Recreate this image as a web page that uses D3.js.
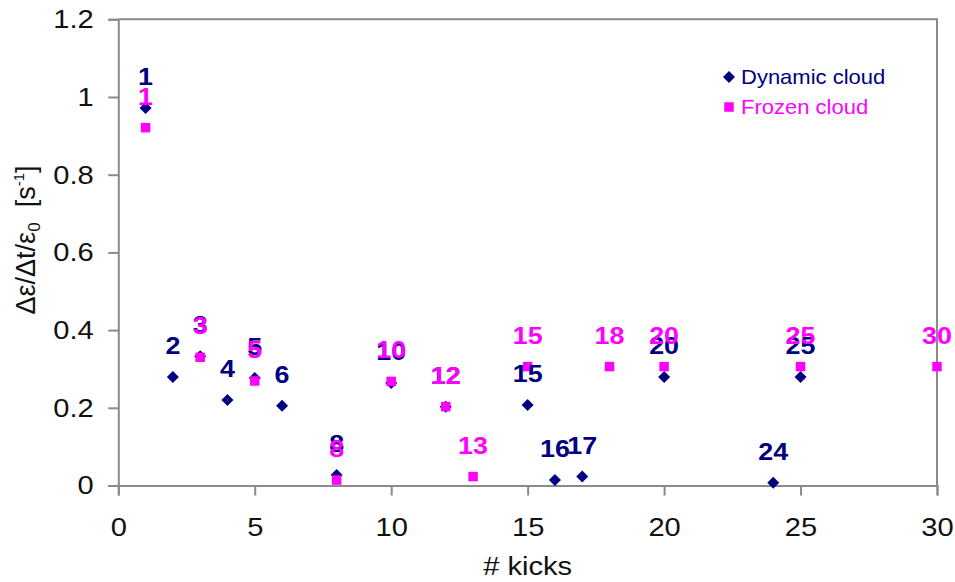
<!DOCTYPE html>
<html>
<head>
<meta charset="utf-8">
<script src="https://cdn.jsdelivr.net/npm/d3@7"></script>
<style>
  html, body { margin: 0; padding: 0; background: #ffffff; }
  svg { display: block; }
  text { font-family: "Liberation Sans", Arial, Helvetica, sans-serif; }
</style>
</head>
<body>
<svg id="chart" width="955" height="582"></svg>
<script>
// Emittance growth rate per kick, dynamic vs frozen electron cloud
const dynamicKicks  = [1, 2, 3, 4, 5, 6, 8, 10, 12, 15, 16, 17, 20, 24, 25];
const dynamicValues = [0.972, 0.279, 0.333, 0.22, 0.277, 0.205, 0.027, 0.264, 0.203, 0.207, 0.014, 0.023, 0.279, 0.007, 0.279];
const frozenKicks   = [1, 3, 5, 8, 10, 12, 13, 15, 18, 20, 25, 30];
const frozenValues  = [0.921, 0.33, 0.269, 0.014, 0.268, 0.203, 0.023, 0.306, 0.306, 0.306, 0.306, 0.306];
const xTickValues   = [0, 5, 10, 15, 20, 25, 30];
const yTickValues   = [0, 0.2, 0.4, 0.6, 0.8, 1, 1.2];
const seriesNames   = ["Dynamic cloud", "Frozen cloud"];

const NAVY = "#000080", MAGENTA = "#ff00ff", AXIS = "#8a8a8a";
const STRETCH = 1.12;   // glyphs are set slightly wide

const svg = d3.select("#chart");
const plot = { left: 118.3, right: 937, top: 19.3, bottom: 485.5 };

const x = d3.scaleLinear().domain([0, 30]).range([plot.left, plot.right]);
const y = d3.scaleLinear().domain([0, 1.2]).range([plot.bottom, plot.top]);

// frame: top and right edges
svg.append("path")
  .attr("d", `M${plot.left},${plot.top}H${plot.right}V${plot.bottom}`)
  .attr("fill", "none").attr("stroke", AXIS).attr("stroke-width", 2);

// axes
const xAxis = svg.append("g")
  .attr("transform", `translate(0,${plot.bottom})`)
  .call(d3.axisBottom(x).tickValues(xTickValues).tickSize(10).tickPadding(22).tickFormat(d3.format("d")));
const yAxis = svg.append("g")
  .attr("transform", `translate(${plot.left},0)`)
  .call(d3.axisLeft(y).tickValues(yTickValues).tickSize(10).tickPadding(12).tickFormat(d => String(+d.toFixed(1))));

[xAxis, yAxis].forEach(g => {
  g.select(".domain").attr("stroke", AXIS).attr("stroke-width", 2);
  g.selectAll(".tick line").attr("stroke", AXIS).attr("stroke-width", 2);
  g.selectAll(".tick text")
    .attr("fill", "#111")
    .attr("font-size", 26)
    .attr("font-family", "Liberation Sans, Arial, sans-serif")
    .attr("transform", `scale(${STRETCH},1)`);
});

// axis titles
svg.append("text")
  .attr("transform", `translate(${(plot.left + plot.right) / 2},575) scale(${STRETCH},1)`)
  .attr("text-anchor", "middle").attr("font-size", 26).attr("fill", "#111")
  .text("# kicks");

const yTitle = svg.append("text")
  .attr("transform", "translate(35,240) rotate(-90)")
  .attr("text-anchor", "middle").attr("font-size", 27).attr("fill", "#111");
yTitle.append("tspan").text("Δε/Δt/ε");
yTitle.append("tspan").attr("font-size", 17).attr("dy", 5).text("0");
yTitle.append("tspan").attr("dy", -5).text("\u00a0\u00a0[s");
yTitle.append("tspan").attr("font-size", 15).attr("dy", -11).text("-1");
yTitle.append("tspan").attr("dy", 11).text("]");

// markers
const diamond = d3.symbol(d3.symbolSquare, 72)();
const square  = d3.symbol(d3.symbolSquare, 90)();

const dynamic = dynamicKicks.map((k, i) => ({ k, v: dynamicValues[i] }));
const frozen  = frozenKicks.map((k, i) => ({ k, v: frozenValues[i] }));

svg.append("g").selectAll("path").data(dynamic).join("path")
  .attr("d", diamond).attr("fill", NAVY)
  .attr("transform", d => `translate(${x(d.k)},${y(d.v)}) rotate(45)`);
svg.append("g").selectAll("path").data(frozen).join("path")
  .attr("d", square).attr("fill", MAGENTA)
  .attr("transform", d => `translate(${x(d.k)},${y(d.v)})`);

// data labels: kick number above each point
function labels(data, color) {
  svg.append("g").selectAll("text").data(data).join("text")
    .attr("transform", d => `translate(${x(d.k)},${y(d.v) - 23}) scale(${STRETCH},1)`)
    .attr("text-anchor", "middle")
    .attr("font-size", 24).attr("font-weight", "bold")
    .attr("fill", color)
    .text(d => d.k);
}
labels(dynamic, NAVY);
labels(frozen, MAGENTA);

// legend
const legend = svg.append("g");
const items = [
  { name: seriesNames[0], color: NAVY, shape: diamond, rot: 45, cy: 77 },
  { name: seriesNames[1], color: MAGENTA, shape: square, rot: 0, cy: 107 }
];
items.forEach(it => {
  legend.append("path").attr("d", it.shape).attr("fill", it.color)
    .attr("transform", `translate(729,${it.cy}) rotate(${it.rot})`);
  legend.append("text")
    .attr("transform", `translate(741,${it.cy + 7}) scale(1.1,1)`)
    .attr("font-size", 20).attr("fill", it.color)
    .text(it.name);
});
</script>
</body>
</html>
